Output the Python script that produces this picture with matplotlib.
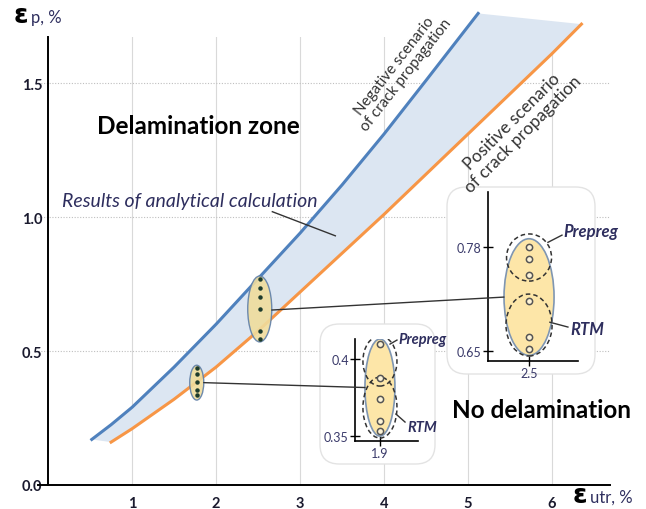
import numpy as np
import matplotlib
matplotlib.use("Agg")
import matplotlib.pyplot as plt
from matplotlib.patches import Ellipse, FancyBboxPatch, ConnectionPatch

plt.rcParams["font.family"] = ["Lato", "DejaVu Sans"]

# analytical curves: eps_p vs eps_utr (%)
neg_x = [0.52, 0.75, 1.0, 1.5, 2.0, 2.5, 3.0, 3.5, 4.0, 4.5, 5.12]
neg_y = [0.17, 0.225, 0.29, 0.44, 0.60, 0.77, 0.94, 1.12, 1.31, 1.51, 1.76]
pos_x = [0.75, 1.0, 1.5, 2.0, 2.5, 3.0, 3.5, 4.0, 4.5, 5.0, 5.5, 6.0, 6.35]
pos_y = [0.16, 0.21, 0.32, 0.44, 0.575, 0.72, 0.865, 1.01, 1.16, 1.31, 1.46,
         1.61, 1.72]

x_ticks = [1, 2, 3, 4, 5, 6]
y_ticks = [0.0, 0.5, 1.0, 1.5]

# test points shown on the main chart
big_x = 2.52
big_y = [0.77, 0.735, 0.70, 0.655, 0.575, 0.545]
small_x = 1.77
small_y = [0.437, 0.414, 0.384, 0.354, 0.336]

# test points in the zoomed views
big_test_x = 2.5
big_test_y = [0.78, 0.765, 0.745, 0.713, 0.668, 0.653]
small_test_x = 1.9
small_test_y = [0.41, 0.388, 0.374, 0.36, 0.353]

BLUE = "#4f81bd"
ORANGE = "#f79646"
FILL = "#dce6f2"
GOLD = "#fde6a8"
NAVY = "#2e2e5e"

fig = plt.figure(figsize=(6.46, 5.10), dpi=100)
ax = fig.add_axes([38 / 646, 24 / 510, 572 / 646, 448 / 510])
ax.set_xlim(-0.12, 6.69)
ax.set_ylim(0, 1.672)

for s in ["top", "right"]:
    ax.spines[s].set_visible(False)
ax.spines["left"].set_position(("data", 0))
ax.spines["left"].set_linewidth(1.4)
ax.spines["bottom"].set_linewidth(1.4)

ax.set_xticks(x_ticks)
ax.set_yticks(y_ticks)
ax.set_xticklabels([str(v) for v in x_ticks])
ax.set_yticklabels([f"{v:.1f}" for v in y_ticks])
ax.tick_params(axis="both", length=0, labelsize=10.5, labelcolor="#1a1a2e")
ax.tick_params(axis="x", pad=8)
ax.tick_params(axis="y", pad=4)
for lbl in ax.get_xticklabels() + ax.get_yticklabels():
    lbl.set_fontweight("bold")

for v in x_ticks:
    ax.axvline(v, color="#d9d9d9", lw=0.8, zorder=0)
for v in y_ticks[1:]:
    ax.axhline(v, color="#bfbfbf", lw=0.8, ls=(0, (1, 1.5)), zorder=0)

# band between the two scenarios
band_x = np.concatenate([neg_x, pos_x[::-1]])
band_y = np.concatenate([neg_y, pos_y[::-1]])
ax.fill(band_x, band_y, color=FILL, lw=0, zorder=1, clip_on=False)
ax.plot(neg_x, neg_y, color=BLUE, lw=2.2, zorder=2, clip_on=False)
ax.plot(pos_x, pos_y, color=ORANGE, lw=2.2, zorder=2, clip_on=False)

# groups of test points
ax.add_patch(Ellipse((big_x, 0.657), 0.286, 0.246, facecolor="#f0dc9c",
                     edgecolor="#5f7fa8", lw=1.0, alpha=0.9, zorder=3))
ax.add_patch(Ellipse((small_x, 0.382), 0.167, 0.13, facecolor="#f0dc9c",
                     edgecolor="#5f7fa8", lw=1.0, alpha=0.9, zorder=3))
ax.plot([big_x] * len(big_y), big_y, "o", ms=2.2, color="#1c3b2c", zorder=4)
ax.plot([small_x] * len(small_y), small_y, "o", ms=2.2, color="#1c3b2c", zorder=4)

ax.text(0.58, 1.34, "Delamination zone", fontsize=17.5, fontweight="bold",
        va="center", ha="left")
ax.text(4.81, 0.28, "No delamination", fontsize=17.5, fontweight="bold",
        va="center", ha="left")
ax.text(0.17, 1.06, "Results of analytical calculation", fontsize=14,
        style="italic", color=NAVY, va="center", ha="left")
ax.plot([2.67, 3.42], [1.02, 0.93], color="#333333", lw=1.0, zorder=3)

# scenario labels run along the curves (the upper one rises above the axes)
fig.text(4.19, 1.55, "Negative scenario\nof crack propagation", fontsize=11,
         color="#333333", rotation=52, rotation_mode="anchor",
         ha="center", va="center", linespacing=1.0, transform=ax.transData)
fig.text(5.59, 1.335, "Positive scenario\nof crack propagation", fontsize=12.5,
         color="#333333", rotation=45, rotation_mode="anchor",
         ha="center", va="center", linespacing=1.05, transform=ax.transData)

# axis titles
fig.text(14 / 646, 1 - 23 / 510, "ε", fontsize=19, fontweight="bold",
         va="baseline", family=["DejaVu Sans"])
fig.text(31 / 646, 1 - 23 / 510, "p, %", fontsize=12, color=NAVY, va="baseline")
fig.text(573 / 646, 1 - 503 / 510, "ε", fontsize=19, fontweight="bold",
         va="baseline", family=["DejaVu Sans"])
fig.text(590 / 646, 1 - 503 / 510, "utr, %", fontsize=12, color=NAVY,
         va="baseline")

# background cards for the zoomed views
for (x0, y0, w, h) in [(447, 188, 148, 187), (320, 325, 115, 140)]:
    card = FancyBboxPatch((x0 / 646, 1 - (y0 + h) / 510), w / 646, h / 510,
                          boxstyle="round,pad=0,rounding_size=0.03",
                          mutation_aspect=646 / 510,
                          transform=fig.transFigure, facecolor="white",
                          edgecolor="#e3e3e3", lw=1.0, zorder=1)
    fig.patches.append(card)


def zoom_view(rect, xlim, ylim, yticks, ylabels, xt, test_x, test_y,
              center, size, prep, rtm, prep_txt, rtm_txt, prep_line, rtm_line,
              note_size):
    iax = fig.add_axes(rect, zorder=2)
    iax.patch.set_alpha(0)
    iax.set_xlim(*xlim)
    iax.set_ylim(*ylim)
    for s in ["top", "right"]:
        iax.spines[s].set_visible(False)
    iax.spines["left"].set_linewidth(1.2)
    iax.spines["bottom"].set_linewidth(1.2)
    iax.set_yticks(yticks)
    iax.set_yticklabels(ylabels)
    iax.set_xticks([xt])
    iax.set_xticklabels([str(xt)])
    iax.tick_params(direction="inout", length=7, width=1.0, labelsize=9,
                    labelcolor="#3a3a6a", pad=1)
    iax.add_patch(Ellipse(center, size[0], size[1], facecolor=GOLD,
                          edgecolor="#7f96b2", lw=1.2, zorder=2))
    for c, s in [prep, rtm]:
        iax.add_patch(Ellipse(c, s[0], s[1], facecolor="none",
                              edgecolor="#333333", lw=1.1, ls=(0, (3, 2)),
                              zorder=3))
    iax.plot([test_x] * len(test_y), test_y, "o", ms=4.5, mfc="#fdf3d6",
             mec="#555555", mew=1.1, zorder=4, clip_on=False)
    for pos, txt in [(prep_txt, "Prepreg"), (rtm_txt, "RTM")]:
        iax.text(pos[0], pos[1], txt, fontsize=note_size, fontweight="bold",
                 style="italic", color=NAVY, va="center", ha="left",
                 clip_on=False)
    for ln in [prep_line, rtm_line]:
        iax.plot(ln[0], ln[1], color="#333333", lw=1.0, clip_on=False)
    return iax


ax1 = zoom_view([488 / 646, 148 / 510, 90 / 646, 169 / 510],
                (2.272, 2.772), (0.6375, 0.849), [0.78, 0.65], ["0.78", "0.65"],
                2.5, big_test_x, big_test_y,
                (2.5, 0.7175), (0.278, 0.146),
                ((2.5, 0.767), (0.25, 0.059)), ((2.5, 0.6825), (0.256, 0.0775)),
                (2.689, 0.80), (2.728, 0.6775),
                ([2.605, 2.683], [0.786, 0.795]), ([2.616, 2.716], [0.686, 0.68]),
                12)

ax2 = zoom_view([355 / 646, 68 / 510, 63 / 646, 102 / 510],
                (1.702, 2.202), (0.3468, 0.413), [0.4, 0.35], ["0.4", "0.35"],
                1.9, small_test_x, small_test_y,
                (1.9, 0.3815), (0.238, 0.063),
                ((1.9, 0.3987), (0.27, 0.0325)), ((1.9, 0.3685), (0.27, 0.0396)),
                (2.043, 0.413), (2.115, 0.3558),
                ([1.980, 2.035], [0.4097, 0.4123]), ([2.027, 2.099], [0.3643, 0.3591]),
                10.5)

# connectors from the chart to the zoomed views
for xyA, axB, xyB in [((big_x + 0.143, 0.653), ax1, (2.5 - 0.139, 0.7175)),
                      ((small_x + 0.083, 0.382), ax2, (1.9 - 0.119, 0.3815))]:
    con = ConnectionPatch(xyA=xyA, coordsA=ax.transData, xyB=xyB,
                          coordsB=axB.transData, color="#333333", lw=1.0,
                          zorder=3)
    fig.add_artist(con)

fig.savefig("out.png", dpi=100)
